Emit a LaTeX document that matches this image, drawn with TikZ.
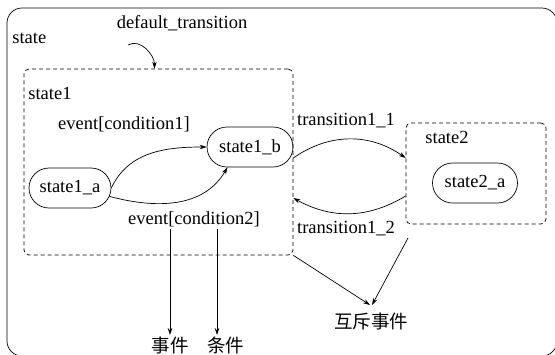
\documentclass[tikz,border=0pt]{standalone}
\usepackage{fontspec}
\setmainfont{Liberation Serif}
\newfontfamily\serif{Liberation Serif}
\newfontfamily\cjk{Noto Sans CJK SC}
\usetikzlibrary{shapes.misc}
\usetikzlibrary{arrows.meta}

\begin{document}
\begin{tikzpicture}[x=1pt, y=1pt, line width=0.7pt,
  >={Stealth[length=7pt, width=4.5pt]},
  every node/.style={font=\serif\fontsize{18.5}{22}\selectfont, inner sep=2pt},
  cn/.style={font=\cjk\fontsize{18.5}{22}\selectfont},
  leaf/.style={draw, rounded rectangle, minimum height=40pt, inner sep=0pt},
  box/.style={draw, dash pattern=on 4pt off 3pt, rounded corners=5pt, inner sep=0pt}]
  \useasboundingbox (0,0) rectangle (555,-354);
  \begin{scope}
    \clip (0,0) rectangle (555,-354);
    \draw[rounded corners=15pt] (7,-8) rectangle (557,-356);
  \end{scope}
  \node[anchor=west] (s0) at (10,-38) {state};
  \node (dt) at (182,-23) {default\_transition};
  \node[box, minimum width=269pt, minimum height=186pt] (s1) at (158.5,-162) {};
  \node[anchor=west] (l1) at (26,-93) {state1};
  \node (c1) at (124,-124) {event[condition1]};
  \node (c2) at (194,-219) {event[condition2]};
  \node[leaf, minimum width=82pt] (s1a) at (70,-188) {state1\_a};
  \node[leaf, minimum width=86pt] (s1b) at (250,-147) {state1\_b};
  \node[box, minimum width=140pt, minimum height=101pt] (s2) at (476,-173.5) {};
  \node (l2) at (447,-137) {state2};
  \node[leaf, minimum width=85pt] (s2a) at (475,-183) {state2\_a};
  \node (t11) at (346,-121) {transition1\_1};
  \node (t12) at (346,-229) {transition1\_2};
  \node[cn, anchor=north] (sj) at (170,-335) {事件};
  \node[cn, anchor=north] (tj) at (225.5,-335) {条件};
  \node[cn, anchor=north, inner ysep=8pt] (hc) at (371,-305) {互斥事件};
  \coordinate (d0) at (128,-45);
  \coordinate (m0) at (408,-238);
  \coordinate (tjn) at ([xshift=-8.5pt]tj.north);

  \draw[->] (d0) to[out=30, in=90] ([xshift=-4pt]s1.north);
  \draw[->] (s1a.east) to[out=65, in=180] (s1b.west);
  \draw[->] (s1a.-12) to[out=-15, in=-120] (s1b.222);
  \draw[->] ([yshift=4pt]s1.east) to[bend left=35] ([yshift=15.5pt]s2.west);
  \draw[->] ([yshift=-22.5pt]s2.west) to[bend left=30] ([yshift=-36pt]s1.east);
  \draw[->] (c2.south -| sj.north) -- (sj.north);
  \draw[->] (tjn |- c2.south) -- (tjn);
  \draw[->] (s1.south east) -- ([xshift=-1pt]hc.north);
  \draw[->] (m0) -- ([xshift=1pt]hc.north);
\end{tikzpicture}
\end{document}
